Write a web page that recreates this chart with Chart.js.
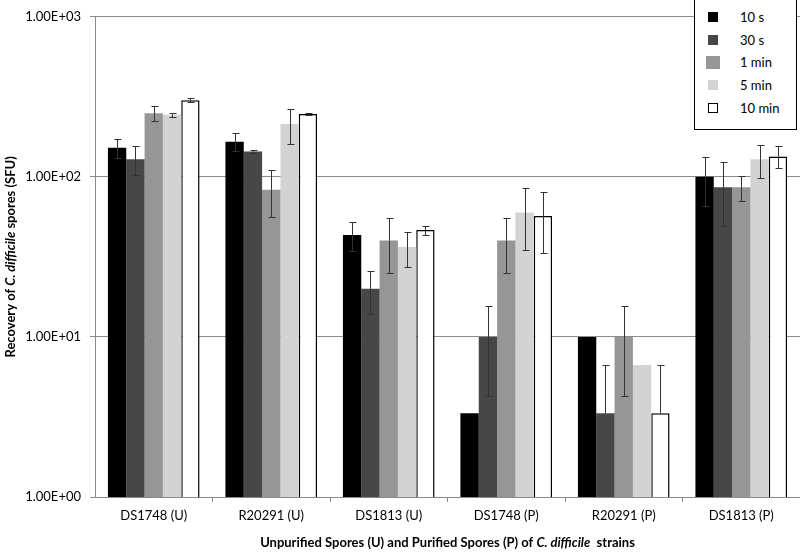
<!DOCTYPE html>
<html>
<head>
<meta charset="utf-8">
<script src="https://cdn.jsdelivr.net/npm/chart.js@4.4.0/dist/chart.umd.min.js"></script>
<style>
  body { margin: 0; background: #fff; }
  #wrap { position: relative; width: 800px; height: 552px; overflow: hidden; }
  #legend {
    position: absolute; left: 694px; top: -1px; width: 103px; height: 131px;
    border: 1.5px solid #000; background: #fff; box-sizing: border-box;
    font-family: Lato, "Open Sans", sans-serif; font-size: 13px; color: #000;
  }
  #legend .row { position: absolute; left: 0; height: 16px; line-height: 16px; }
  #legend .sw { position: absolute; left: 13px; top: 3px; width: 10px; height: 10px; box-sizing: border-box; }
  #legend .tx { position: absolute; left: 45px; top: 0; white-space: nowrap; }
</style>
</head>
<body>
<div id="wrap">
  <canvas id="chart" width="800" height="552"></canvas>
  <div id="legend"></div>
</div>
<script>
const categories = ['DS1748 (U)', 'R20291 (U)', 'DS1813 (U)', 'DS1748 (P)', 'R20291 (P)', 'DS1813 (P)'];
const seriesNames = ['10 s', '30 s', '1 min', '5 min', '10 min'];

// mean recovery (SFU)
const s10s  = [152, 166, 43.4, 3.33, 10, 100];
const s30s  = [129, 144, 20, 10, 3.33, 86];
const s1min = [250, 83, 40, 40, 10, 86];
const s5min = [244, 214, 36.4, 60, 6.67, 129];
const s10min = [301, 247, 46.5, 57, 3.33, 134];

// error (+/-)
const e10s  = [21, 21, 9, 0, 0, 34];
const e30s  = [26, 4, 6, 5.7, 3.33, 37];
const e1min = [28, 27, 15, 15, 5.7, 15];
const e5min = [7, 53, 9, 25, 0, 30];
const e10min = [8, 5, 3, 23.5, 3.33, 21];

const yTicks = [1, 10, 100, 1000];

const fills = ['#000000', '#474747', '#969696', '#d3d3d3', '#ffffff'];
const values = [s10s, s30s, s1min, s5min, s10min];
const errors = [e10s, e30s, e1min, e5min, e10min];

const FONT = 'Lato, "Open Sans", sans-serif';

// error bars; lower whisker skipped when it would reach zero on the log axis
const errorBars = {
  id: 'errorBars',
  afterDatasetsDraw(chart) {
    const ctx = chart.ctx;
    const y = chart.scales.y;
    ctx.save();
    ctx.strokeStyle = '#333';
    ctx.lineWidth = 1;
    chart.data.datasets.forEach((ds, i) => {
      const meta = chart.getDatasetMeta(i);
      meta.data.forEach((bar, j) => {
        const v = ds.data[j], e = ds.err[j];
        if (!e) return;
        const x = Math.round(bar.x) + 0.5;
        const mid = y.getPixelForValue(v);
        const top = Math.round(y.getPixelForValue(v + e)) + 0.5;
        ctx.beginPath();
        ctx.moveTo(x, top); ctx.lineTo(x, mid);
        ctx.moveTo(x - 3, top); ctx.lineTo(x + 4, top);
        if (v - e > 0.5) {
          const bot = Math.round(y.getPixelForValue(Math.max(v - e, 1))) + 0.5;
          ctx.moveTo(x, mid); ctx.lineTo(x, bot);
          ctx.moveTo(x - 3, bot); ctx.lineTo(x + 4, bot);
        }
        ctx.stroke();
      });
    });
    ctx.restore();
  }
};

function drawParts(ctx, parts, x, y) {
  let total = 0;
  parts.forEach(p => { ctx.font = p[1]; total += ctx.measureText(p[0]).width; });
  let cx = x - total / 2;
  parts.forEach(p => {
    ctx.font = p[1];
    ctx.fillText(p[0], cx, y);
    cx += ctx.measureText(p[0]).width;
  });
}

const axisTitles = {
  id: 'axisTitles',
  afterDraw(chart) {
    const ctx = chart.ctx;
    const a = chart.chartArea;
    const b = 'bold 13px ' + FONT, bi = 'italic bold 13px ' + FONT;
    ctx.save();
    ctx.fillStyle = '#000';
    ctx.textBaseline = 'middle';
    ctx.textAlign = 'left';
    drawParts(ctx, [['Unpurified Spores (U) and Purified Spores (P) of ', b], ['C. difficile', bi], ['  strains', b]],
      (a.left + a.right) / 2, 543);
    ctx.translate(11, (a.top + a.bottom) / 2);
    ctx.rotate(-Math.PI / 2);
    drawParts(ctx, [['Recovery of ', b], ['C. difficile', bi], [' spores (SFU)', b]], 0, 0);
    ctx.restore();
  }
};

const datasets = seriesNames.map((name, i) => ({
  label: name,
  data: values[i],
  err: errors[i],
  backgroundColor: fills[i],
  borderColor: i === 4 ? '#000' : fills[i],
  borderWidth: i === 4 ? 1.5 : 0,
  categoryPercentage: 0.78,
  barPercentage: 1.0
}));

new Chart(document.getElementById('chart'), {
  type: 'bar',
  data: { labels: categories, datasets: datasets },
  plugins: [errorBars, axisTitles],
  options: {
    responsive: false,
    animation: false,
    layout: { padding: { left: 0, right: 0, top: 5, bottom: 0 } },
    plugins: { legend: { display: false }, tooltip: { enabled: false } },
    scales: {
      x: {
        grid: {
          display: true, drawOnChartArea: false, drawTicks: true, tickLength: 5, offset: true,
          color: c => (c.index > 0 && c.index < categories.length) ? '#888' : 'rgba(0,0,0,0)'
        },
        border: { color: '#888' },
        ticks: { color: '#000', font: { family: FONT, size: 13 }, padding: 6 },
        afterFit(scale) { scale.height = 55; }
      },
      y: {
        type: 'logarithmic',
        min: 1,
        max: 1000,
        afterBuildTicks(scale) { scale.ticks = yTicks.map(v => ({ value: v, major: true })); },
        grid: { color: '#8c8c8c', tickLength: 5 },
        border: { color: '#8c8c8c' },
        ticks: {
          color: '#000',
          font: { family: FONT, size: 13 },
          padding: 9,
          callback: v => Number(v).toExponential(2).toUpperCase().replace(/E([+-])(\d)$/, 'E$10$2')
        },
        afterFit(scale) { scale.width = 95; }
      }
    }
  }
});

const legend = document.getElementById('legend');
seriesNames.forEach((name, i) => {
  const row = document.createElement('div');
  row.className = 'row';
  row.style.top = (9 + i * 22.7) + 'px';
  const sw = document.createElement('div');
  sw.className = 'sw';
  sw.style.background = fills[i];
  if (i === 4) sw.style.border = '1px solid #000';
  if (i === 2) { sw.style.width = '14px'; sw.style.height = '13px'; sw.style.left = '11px'; sw.style.top = '2px'; }
  const tx = document.createElement('span');
  tx.className = 'tx';
  tx.textContent = name;
  row.appendChild(sw); row.appendChild(tx);
  legend.appendChild(row);
});
</script>
</body>
</html>
